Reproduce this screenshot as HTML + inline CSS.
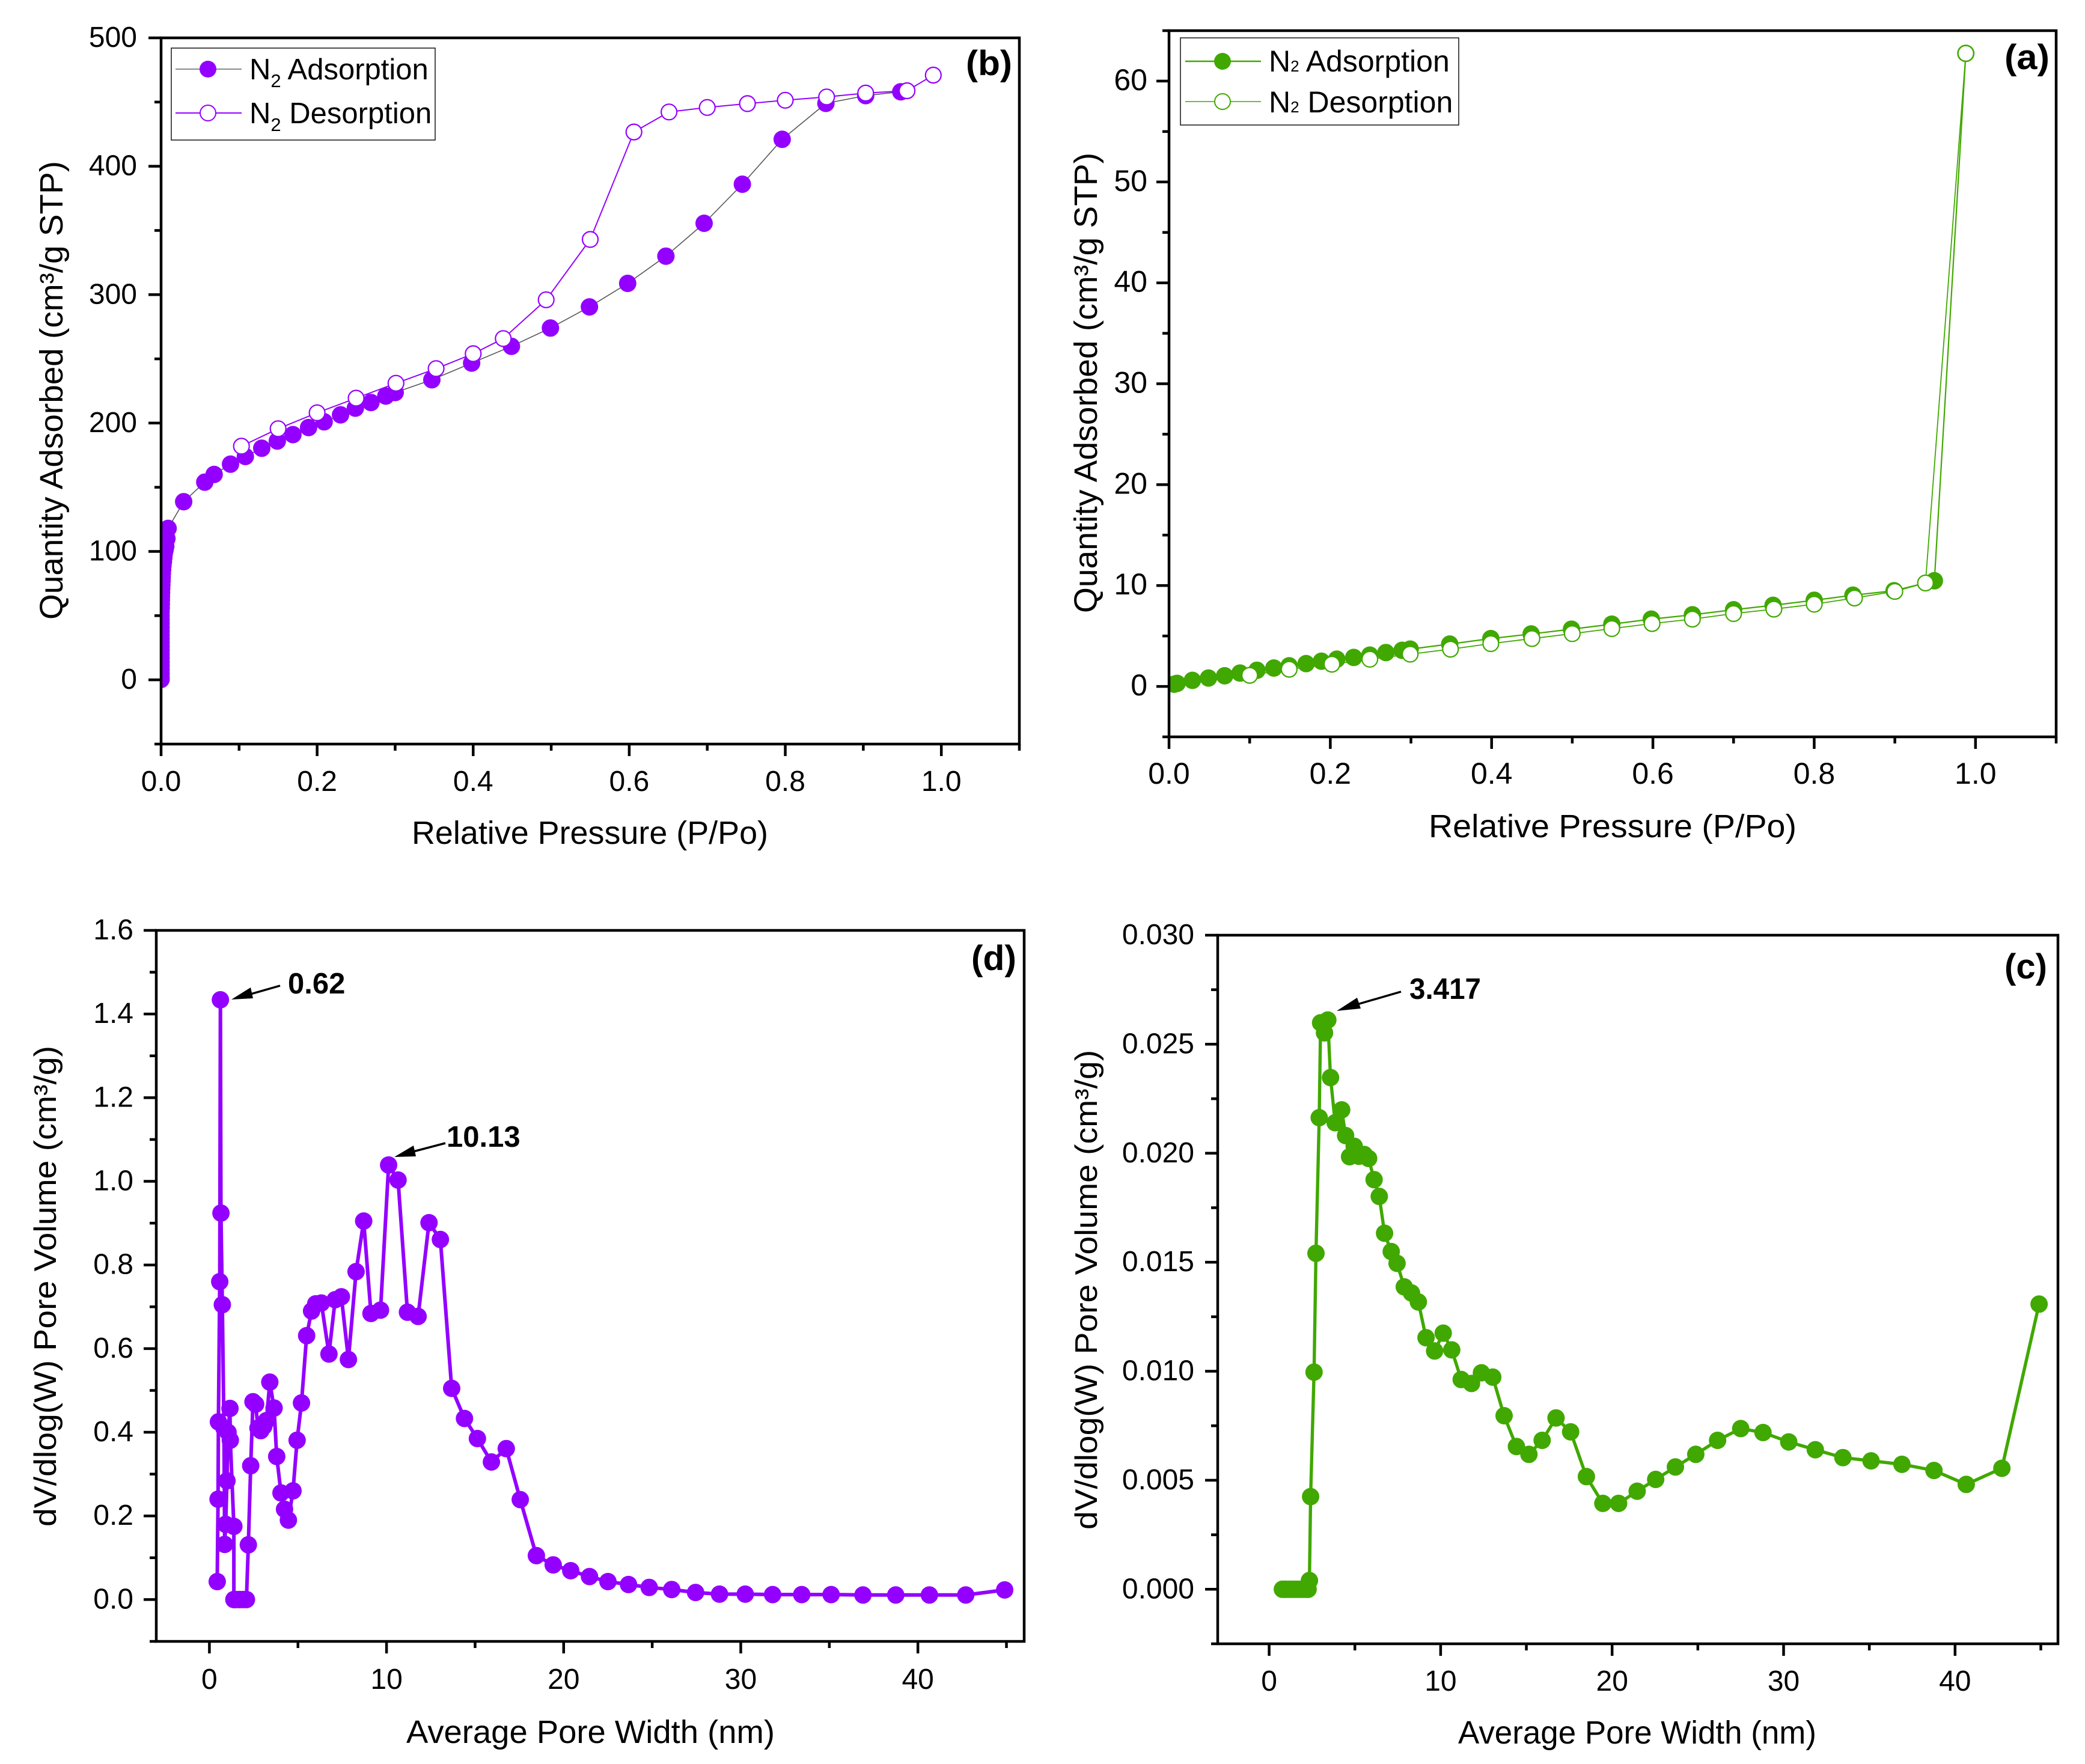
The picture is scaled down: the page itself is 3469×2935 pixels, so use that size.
<!DOCTYPE html>
<html lang="en">
<head>
<meta charset="utf-8">
<title>N2 sorption isotherms and pore size distributions</title>
<style>
html,body{margin:0;padding:0;background:#fff;}
svg{display:block;}
text{font-family:"Liberation Sans",Arial,sans-serif;fill:#000;}
</style>
</head>
<body>
<svg id="figure" xmlns="http://www.w3.org/2000/svg" width="3469" height="2935" viewBox="0 0 3469 2935">
<rect x="0" y="0" width="3469" height="2935" fill="#fff"/>
<defs>
<clipPath id="clip-b"><rect x="268" y="63" width="1428" height="1175"/></clipPath>
<clipPath id="clip-a"><rect x="1945" y="51" width="1476" height="1175"/></clipPath>
<clipPath id="clip-d"><rect x="260" y="1548" width="1444" height="1183"/></clipPath>
<clipPath id="clip-c"><rect x="2026" y="1556" width="1398" height="1179"/></clipPath>
</defs>
<g id="layer-b"></g>
<g id="layer-a"></g>
<g id="layer-d"></g>
<g id="layer-c"></g>

<text x="685" y="1404" font-size="54" textLength="593" lengthAdjust="spacingAndGlyphs">Relative Pressure (P/Po)</text>
<text transform="translate(104,1031) rotate(-90)" font-size="54" textLength="763" lengthAdjust="spacingAndGlyphs">Quantity Adsorbed (cm³/g STP)</text>
<text x="1607" y="125" font-size="58" font-weight="bold" textLength="77" lengthAdjust="spacingAndGlyphs">(b)</text>

<g>
<rect x="285" y="80" width="439" height="153" fill="#fff" stroke="#222" stroke-width="1.6"/>
<line x1="292" y1="115" x2="402" y2="115" stroke="#666" stroke-width="1.6"/>
<circle cx="346" cy="115" r="14" fill="#9400ff"/>
<text x="415" y="132" font-size="49">N<tspan font-size="31" dy="13">2</tspan><tspan dy="-13"> Adsorption</tspan></text>
<line x1="292" y1="188" x2="402" y2="188" stroke="#9400ff" stroke-width="2"/>
<circle cx="346" cy="188" r="13" fill="#fff" stroke="#9400ff" stroke-width="2"/>
<text x="415" y="205" font-size="49">N<tspan font-size="31" dy="13">2</tspan><tspan dy="-13"> Desorption</tspan></text>
</g>

<text x="2377" y="1393" font-size="54" textLength="612" lengthAdjust="spacingAndGlyphs">Relative Pressure (P/Po)</text>
<text transform="translate(1825,1020) rotate(-90)" font-size="54" textLength="766" lengthAdjust="spacingAndGlyphs">Quantity Adsorbed (cm³/g STP)</text>
<text x="3335" y="115" font-size="58" font-weight="bold" textLength="75" lengthAdjust="spacingAndGlyphs">(a)</text>

<g>
<rect x="1964" y="63" width="463" height="145" fill="#fff" stroke="#222" stroke-width="1.6"/>
<line x1="1972" y1="102" x2="2098" y2="102" stroke="#40a800" stroke-width="2.5"/>
<circle cx="2034" cy="102" r="14" fill="#40a800"/>
<text x="2111" y="119" font-size="50">N<tspan font-size="26">2</tspan> Adsorption</text>
<line x1="1972" y1="169" x2="2098" y2="169" stroke="#40a800" stroke-width="1.6"/>
<circle cx="2034" cy="169" r="13" fill="#fff" stroke="#40a800" stroke-width="2"/>
<text x="2111" y="187" font-size="50">N<tspan font-size="26">2</tspan> Desorption</text>
</g>

<text x="676" y="2900" font-size="54" textLength="613" lengthAdjust="spacingAndGlyphs">Average Pore Width (nm)</text>
<text transform="translate(93,2540) rotate(-90)" font-size="52" textLength="800" lengthAdjust="spacingAndGlyphs">dV/dlog(W) Pore Volume (cm³/g)</text>
<text x="1616" y="1614" font-size="58" font-weight="bold" textLength="75" lengthAdjust="spacingAndGlyphs">(d)</text>
<text x="479" y="1653" font-size="49" font-weight="bold">0.62</text>
<line x1="466" y1="1640" x2="410" y2="1656" stroke="#000" stroke-width="3.5"/>
<polygon points="385,1663 417,1643 421,1661" fill="#000"/>
<text x="743" y="1908" font-size="49" font-weight="bold">10.13</text>
<line x1="741" y1="1902" x2="680" y2="1918" stroke="#000" stroke-width="3.5"/>
<polygon points="656,1925 688,1906 692,1924" fill="#000"/>

<text x="2426" y="2901" font-size="54" textLength="596" lengthAdjust="spacingAndGlyphs">Average Pore Width (nm)</text>
<text transform="translate(1825,2545) rotate(-90)" font-size="52" textLength="798" lengthAdjust="spacingAndGlyphs">dV/dlog(W) Pore Volume (cm³/g)</text>
<text x="3335" y="1628" font-size="58" font-weight="bold" textLength="71" lengthAdjust="spacingAndGlyphs">(c)</text>
<text x="2345" y="1662" font-size="49" font-weight="bold" textLength="119" lengthAdjust="spacingAndGlyphs">3.417</text>
<line x1="2331" y1="1650" x2="2255" y2="1672" stroke="#000" stroke-width="3.5"/>
<polygon points="2224,1682 2258,1660 2264,1678" fill="#000"/>
</svg>

<script>
/* Panel (b) data */
const bAdsX = [0,0,0,0,0,0,0,0,0,0,0,0,0,0,0,0,0,0,0,0.0002,0.0003,0.0004,0.0005,0.0006,0.0008,0.001,0.0012,0.0014,0.0016,0.002,0.0024,0.003,0.0035,0.004,0.005,0.006,0.0075,0.009,0.029,0.056,0.068,0.089,0.108,0.129,0.149,0.169,0.189,0.209,0.23,0.249,0.269,0.288,0.30,0.347,0.398,0.449,0.499,0.549,0.598,0.647,0.696,0.745,0.796,0.852,0.903,0.948];
const bAdsY = [0.3,2,5,8,11,14,17,20,23,26,29,32,35,38,41,44,47,50,53,56,59,62,65,68,71,74,77,80,83,86,89,92,95,98,101,104,110,118,138.8,154,160,168,174,180.4,186,191,196.5,201,206.4,211.6,216,221,223.8,233.7,246.7,259.8,274,290.5,308.8,330,355.6,386,421,449,455,458];
const bDesX = [0.9897,0.956,0.903,0.853,0.80,0.7515,0.70,0.651,0.606,0.55,0.4935,0.4385,0.40,0.3525,0.301,0.25,0.20,0.15,0.103];
const bDesY = [471,458.8,457,454,451.4,448.8,445.8,442.3,426.7,343,296,265.8,254,242.4,231,219.4,208,195.6,182];
const bXMajor = ['0.0','0.2','0.4','0.6','0.8','1.0'];
const bXMinor = [0.1,0.3,0.5,0.7,0.9,1.1];
const bYMajor = ['0','100','200','300','400','500'];
const bYMinor = [-50,50,150,250,350,450];

/* Panel (a) data */
const aAdsX = [0.0065,0.01,0.029,0.049,0.069,0.088,0.109,0.13,0.149,0.17,0.189,0.208,0.229,0.249,0.269,0.289,0.299,0.348,0.399,0.449,0.499,0.549,0.598,0.649,0.70,0.749,0.80,0.848,0.899,0.949,0.988];
const aAdsY = [0.22,0.3,0.6,0.83,1.05,1.32,1.6,1.82,2.04,2.26,2.5,2.7,2.87,3.1,3.36,3.58,3.7,4.2,4.74,5.2,5.67,6.17,6.67,7.1,7.6,8.04,8.54,9.04,9.48,10.47,62.75];
const aDesX = [0.988,0.938,0.90,0.85,0.80,0.75,0.70,0.649,0.599,0.549,0.50,0.45,0.399,0.349,0.299,0.249,0.202,0.149,0.10];
const aDesY = [62.75,10.25,9.42,8.76,8.15,7.66,7.22,6.67,6.23,5.73,5.23,4.74,4.24,3.69,3.2,2.7,2.2,1.7,1.1];
const aXMajor = ['0.0','0.2','0.4','0.6','0.8','1.0'];
const aXMinor = [0.1,0.3,0.5,0.7,0.9,1.1];
const aYMajor = ['0','10','20','30','40','50','60'];
const aYMinor = [-5,5,15,25,35,45,55,65];

/* Panel (d) data */
const dWidth = [0.44,0.49,0.51,0.585,0.62,0.65,0.73,0.82,0.86,0.92,0.99,1.05,1.16,1.18,1.38,1.38,1.5,1.7,1.9,2.09,2.2,2.33,2.46,2.61,2.74,2.9,3.07,3.22,3.41,3.65,3.8,4.04,4.24,4.46,4.72,4.95,5.2,5.49,5.77,6.0,6.32,6.75,7.1,7.45,7.85,8.28,8.71,9.12,9.66,10.12,10.65,11.18,11.78,12.4,13.04,13.68,14.4,15.13,15.92,16.76,17.55,18.46,19.41,20.4,21.46,22.5,23.66,24.83,26.1,27.45,28.8,30.25,31.8,33.44,35.1,36.9,38.75,40.65,42.7,44.9];
const dVolume = [0.043,0.24,0.425,0.76,1.434,0.924,0.705,0.41,0.132,0.18,0.284,0.40,0.457,0.381,0.175,0,0,0,0,0,0.131,0.32,0.473,0.467,0.41,0.404,0.414,0.428,0.52,0.458,0.342,0.255,0.216,0.19,0.26,0.381,0.47,0.631,0.69,0.707,0.709,0.587,0.717,0.724,0.574,0.784,0.905,0.684,0.692,1.039,1.003,0.687,0.677,0.901,0.861,0.505,0.433,0.385,0.329,0.361,0.239,0.105,0.083,0.069,0.055,0.043,0.036,0.029,0.024,0.017,0.013,0.013,0.012,0.012,0.012,0.011,0.011,0.011,0.011,0.023];
const dXMajor = ['0','10','20','30','40'];
const dXMinor = [5,15,25,35,45];
const dYMajor = ['0.0','0.2','0.4','0.6','0.8','1.0','1.2','1.4','1.6'];
const dYMinor = [-0.1,0.1,0.3,0.5,0.7,0.9,1.1,1.3,1.5];

/* Panel (c) data */
const cWidth = [0.77,0.9,1.0,1.15,1.3,1.45,1.6,1.75,1.9,2.05,2.2,2.27,2.35,2.42,2.62,2.73,2.92,3.0,3.23,3.42,3.58,3.85,4.23,4.46,4.69,4.96,5.23,5.54,5.8,6.12,6.42,6.73,7.12,7.46,7.88,8.3,8.7,9.15,9.65,10.15,10.65,11.2,11.8,12.38,13.04,13.7,14.42,15.15,15.92,16.73,17.58,18.5,19.46,20.38,21.46,22.54,23.69,24.88,26.15,27.5,28.8,30.3,31.85,33.46,35.1,36.9,38.77,40.65,42.73,44.9];
const cVolume = [0,0,0,0,0,0,0,0,0,0,0,0,0.0004,0.00425,0.00996,0.01541,0.02163,0.02598,0.02552,0.02611,0.02347,0.0214,0.02199,0.02081,0.01984,0.02032,0.01986,0.01994,0.01976,0.01879,0.01802,0.01633,0.01549,0.01495,0.01387,0.01359,0.01318,0.01154,0.01093,0.01175,0.01098,0.00962,0.00944,0.00993,0.00973,0.00796,0.00655,0.00619,0.00683,0.00786,0.00722,0.00517,0.00394,0.00394,0.0045,0.00504,0.00561,0.00619,0.00683,0.00737,0.00719,0.00676,0.0064,0.00604,0.00589,0.00573,0.00545,0.00481,0.00555,0.01308];
const cXMajor = ['0','10','20','30','40'];
const cXMinor = [5,15,25,35,45];
const cYMajor = ['0.000','0.005','0.010','0.015','0.020','0.025','0.030'];
const cYMinor = [-0.0025,0.0025,0.0075,0.0125,0.0175,0.0225,0.0275];

const NS = 'http://www.w3.org/2000/svg';
const PURPLE = '#9400ff';
const GREEN = '#40a800';

function node(tag, attrs, parent) {
  const el = document.createElementNS(NS, tag);
  for (const k in attrs) el.setAttribute(k, attrs[k]);
  parent.appendChild(el);
  return el;
}

function linearAxis(d0, d1, r0, r1) {
  return function (v) { return r0 + (v - d0) * (r1 - r0) / (d1 - d0); };
}

function drawSeries(layer, clipId, sx, sy, xs, ys, lineColor, lineWidth, markerColor, hollow, key, radius) {
  const g = node('g', {'clip-path': 'url(#' + clipId + ')'}, layer);
  
  
  const pts = xs.map(function (x, i) { return sx(x).toFixed(1) + ',' + sy(ys[i]).toFixed(1); }).join(' ');
  const line = node('polyline', {points: pts, fill: 'none', stroke: lineColor, 'stroke-width': lineWidth, 'stroke-linejoin': 'round'}, g);
  
  
  xs.forEach(function (x, i) {
    const attrs = {cx: sx(x).toFixed(1), cy: sy(ys[i]).toFixed(1), r: radius, fill: hollow ? '#fff' : markerColor};
    if (hollow) { attrs.stroke = markerColor; attrs['stroke-width'] = 2.2; }
    const dot = node('circle', attrs, g);
    
    
  });
}

function drawAxes(layer, f, sx, sy, xMajor, xMinor, yMajor, yMinor, xBase, yRight, fs, yOff) {
  const K = {stroke: '#000', 'stroke-width': 4.5};
  const frame = node('rect', {x: f.l, y: f.t, width: f.r - f.l, height: f.b - f.t, fill: 'none', stroke: '#000', 'stroke-width': 4.5}, layer);
  
  
  xMajor.forEach(function (lab) {
    const x = sx(parseFloat(lab));
    const t = node('line', Object.assign({x1: x, x2: x, y1: f.b, y2: f.b + 20}, K), layer);
    
    
    const tx = node('text', {x: x, y: xBase, 'font-size': fs, 'text-anchor': 'middle'}, layer);
    tx.textContent = lab;
    
    
  });
  xMinor.forEach(function (v) {
    const x = sx(v);
    const t = node('line', Object.assign({x1: x, x2: x, y1: f.b, y2: f.b + 11}, K), layer);
    
    
  });
  yMajor.forEach(function (lab) {
    const y = sy(parseFloat(lab));
    const t = node('line', Object.assign({x1: f.l, x2: f.l - 21, y1: y, y2: y}, K), layer);
    
    
    const tx = node('text', {x: yRight, y: y + yOff, 'font-size': fs, 'text-anchor': 'end'}, layer);
    tx.textContent = lab;
    
    
  });
  yMinor.forEach(function (v) {
    const y = sy(v);
    const t = node('line', Object.assign({x1: f.l, x2: f.l - 11, y1: y, y2: y}, K), layer);
    
    
  });
}

/* Panel b */
(function () {
  const layer = document.getElementById('layer-b');
  const f = {key: 'panel-b', l: 268, r: 1696, t: 63, b: 1238};
  const sx = linearAxis(0, 1.1, f.l, f.r), sy = linearAxis(-50, 500, f.b, f.t);
  drawSeries(layer, 'clip-b', sx, sy, bAdsX, bAdsY, '#555', 1.6, PURPLE, false, 'adsorption-b', 14.5);
  drawSeries(layer, 'clip-b', sx, sy, bDesX, bDesY, PURPLE, 2, PURPLE, true, 'desorption-b', 13);
  drawAxes(layer, f, sx, sy, bXMajor, bXMinor, bYMajor, bYMinor, 1316, 228, 48, 15);
})();

/* Panel a */
(function () {
  const layer = document.getElementById('layer-a');
  const f = {key: 'panel-a', l: 1945, r: 3421, t: 51, b: 1226};
  const sx = linearAxis(0, 1.1, f.l, f.r), sy = linearAxis(-5, 65, f.b, f.t);
  drawSeries(layer, 'clip-a', sx, sy, aAdsX, aAdsY, GREEN, 2.2, GREEN, false, 'adsorption-a', 14.5);
  drawSeries(layer, 'clip-a', sx, sy, aDesX, aDesY, GREEN, 1.8, GREEN, true, 'desorption-a', 13);
  drawAxes(layer, f, sx, sy, aXMajor, aXMinor, aYMajor, aYMinor, 1304, 1909, 50, 15);
})();

/* Panel d */
(function () {
  const layer = document.getElementById('layer-d');
  const f = {key: 'panel-d', l: 260, r: 1704, t: 1548, b: 2731};
  const sx = linearAxis(-3, 46, f.l, f.r), sy = linearAxis(-0.1, 1.6, f.b, f.t);
  drawSeries(layer, 'clip-d', sx, sy, dWidth, dVolume, PURPLE, 6, PURPLE, false, 'pore-volume-d', 14.5);
  drawAxes(layer, f, sx, sy, dXMajor, dXMinor, dYMajor, dYMinor, 2810, 222, 48, 15);
})();

/* Panel c */
(function () {
  const layer = document.getElementById('layer-c');
  const f = {key: 'panel-c', l: 2026, r: 3424, t: 1556, b: 2735};
  const sx = linearAxis(-3, 46, f.l, f.r), sy = linearAxis(-0.0025, 0.03, f.b, f.t);
  drawSeries(layer, 'clip-c', sx, sy, cWidth, cVolume, GREEN, 5.4, GREEN, false, 'pore-volume-c', 14.5);
  drawAxes(layer, f, sx, sy, cXMajor, cXMinor, cYMajor, cYMinor, 2813, 1987, 48, 15);
})();
</script>
</body>
</html>
